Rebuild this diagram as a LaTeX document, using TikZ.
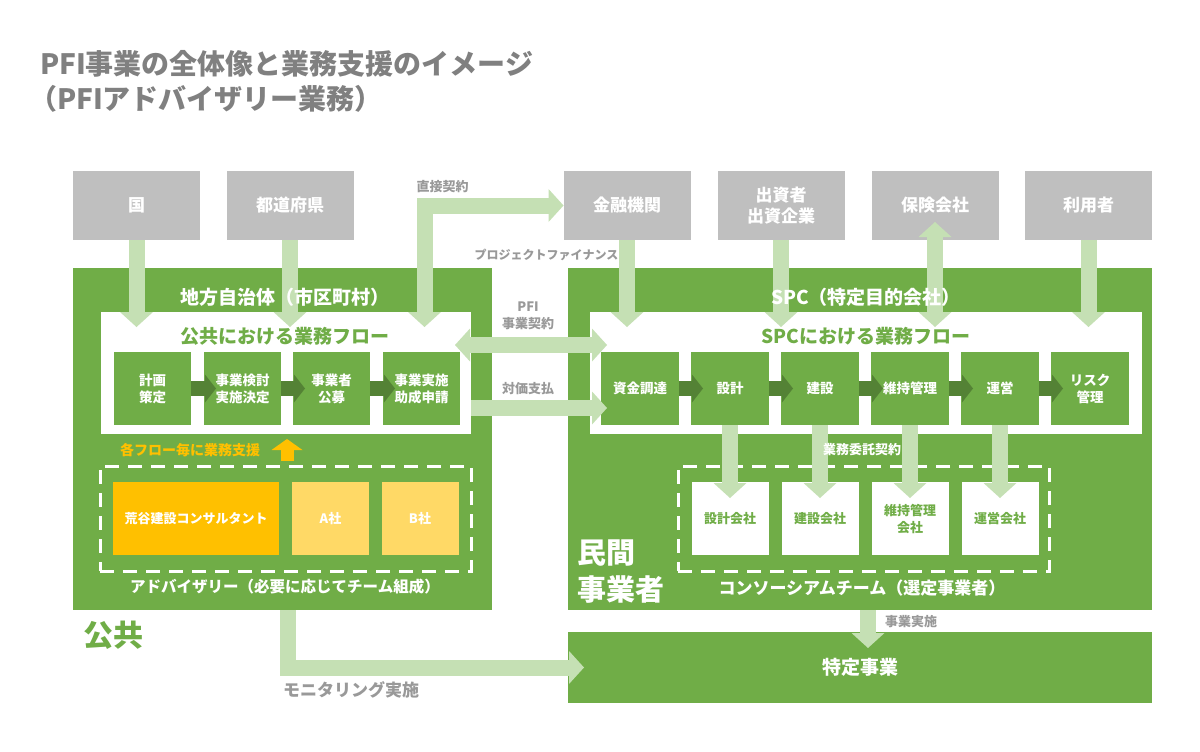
\documentclass[tikz,border=0pt]{standalone}
\usepackage{fontspec}
\setmainfont{Noto Sans CJK JP}
\usetikzlibrary{arrows.meta}
\definecolor{grn}{HTML}{70AD47}
\definecolor{lgrn}{HTML}{C5E0B4}
\definecolor{dgrn}{HTML}{548235}
\definecolor{boxgray}{HTML}{BFBFBF}
\definecolor{gtxt}{HTML}{999999}
\definecolor{ttl}{HTML}{808080}
\definecolor{org}{HTML}{FFC000}
\definecolor{lorg}{HTML}{FFD966}
\newcommand\fsz[2]{\fontsize{#1pt}{#2pt}\selectfont\bfseries}
\begin{document}
\begin{tikzpicture}[x=1pt,y=-1pt,
  every node/.style={inner sep=0pt,outer sep=0pt},
  gb/.style={fill=boxgray,minimum width=127pt,minimum height=69pt,text=white,font=\fsz{17}{21},align=center},
  bigbox/.style={fill=grn},
  flowbox/.style={fill=grn,minimum width=77pt,minimum height=73pt,text=white,font=\fsz{13.5}{17},align=center},
  compbox/.style={fill=white,minimum width=77pt,minimum height=73pt,text=grn,font=\fsz{13}{17},align=center},
  dashbox/.style={draw=white,line width=3pt,dash pattern=on 14pt off 9pt,minimum width=371pt,minimum height=105pt},
  lbl/.style={text=gtxt,font=\fsz{13}{17},align=center},
  la/.style={draw=lgrn,line width=16pt,-{Triangle[width=33pt,length=15pt,line width=0pt]}},
  lab/.style={draw=lgrn,line width=16pt,{Triangle[width=33pt,length=15pt,line width=0pt]}-{Triangle[width=33pt,length=15pt,line width=0pt]}},
  da/.style={draw=dgrn,line width=15pt,-{Triangle[width=28pt,length=11pt,line width=0pt]}},
  oa/.style={draw=org,line width=13pt,-{Triangle[width=31pt,length=11pt,line width=0pt]}}
]
\useasboundingbox (0,0) rectangle (1200,752);
\fill[white] (0,0) rectangle (1200,752);

% title
\node[anchor=west,text=ttl,font=\fsz{28}{32}] (t1) at (40,64) {PFI事業の全体像と業務支援のイメージ};
\node[anchor=west,text=ttl,font=\fsz{28}{32}] (t2) at (29,99) {（PFIアドバイザリー業務）};

% gray boxes
\node[gb] (kuni) at (136.5,205.5) {国};
\node[gb] (todo) at (290,205.5) {都道府県};
\node[gb] (kinyu) at (627,205.5) {金融機関};
\node[gb] (shusshi) at (781,205.5) {出資者\\出資企業};
\node[gb] (hoken) at (935,205.5) {保険会社};
\node[gb] (riyo) at (1088.5,205.5) {利用者};

% big green boxes
\node[bigbox,minimum width=419pt,minimum height=342pt] (pub) at (282.5,439) {};
\node[bigbox,minimum width=584pt,minimum height=342pt] (spc) at (860,439) {};
\node[fill=white,minimum width=370pt,minimum height=122pt] (pubflow) at (286,373) {};
\node[fill=white,minimum width=552pt,minimum height=122pt] (spcflow) at (866,373) {};

% public flow
\node[flowbox] (p1) at (152.5,388.5) {計画\\策定};
\node[flowbox] (p2) at (242.5,388.5) {事業検討\\実施決定};
\node[flowbox] (p3) at (331.5,388.5) {事業者\\公募};
\node[flowbox] (p4) at (421.5,388.5) {事業実施\\助成申請};

% SPC flow
\node[flowbox,minimum width=78pt] (s1) at (640,388.5) {資金調達};
\node[flowbox,minimum width=78pt] (s2) at (730,388.5) {設計};
\node[flowbox,minimum width=78pt] (s3) at (820,388.5) {建設};
\node[flowbox,minimum width=78pt] (s4) at (910,388.5) {維持管理};
\node[flowbox,minimum width=78pt] (s5) at (1000,388.5) {運営};
\node[flowbox,minimum width=78pt] (s6) at (1090,388.5) {リスク\\管理};

% dashed groups
\node[dashbox] (adv) at (285.5,518.5) {};
\node[dashbox] (cons) at (863.5,518.5) {};

\node[fill=org,minimum width=166pt,minimum height=73pt,text=white,font=\fsz{13}{16}] (ar) at (196,518.5) {荒谷建設コンサルタント};
\node[fill=lorg,minimum width=77pt,minimum height=73pt,text=white,font=\fsz{13}{16}] (aco) at (330.5,518.5) {A社};
\node[fill=lorg,minimum width=77pt,minimum height=73pt,text=white,font=\fsz{13}{16}] (bco) at (420,518.5) {B社};

\node[compbox] (c1) at (730,518.5) {設計会社};
\node[compbox] (c2) at (820,518.5) {建設会社};
\node[compbox] (c3) at (910,518.5) {維持管理\\会社};
\node[compbox] (c4) at (1000,518.5) {運営会社};

% specific project
\node[bigbox,minimum width=584pt,minimum height=71pt,text=white,font=\fsz{19}{22}] (toku) at (860,667.5) {特定事業};

% coordinates
\coordinate (ttop) at (0,327);
\coordinate (dkA) at (424.5,327);
\coordinate (pfiL) at (455,345);
\coordinate (pfiR) at (607,345);
\coordinate (payR) at (607,408);
\coordinate (supA) at (287,461);
\coordinate (supB) at (287,439);

% light green arrows
\draw[la] (kuni.south) -- (kuni.south |- ttop);
\draw[la] (todo.south) -- (todo.south |- ttop);
\draw[la] (kinyu.south) -- (kinyu.south |- ttop);
\draw[la] (shusshi.south) -- (shusshi.south |- ttop);
\draw[lab] ([yshift=18pt]hoken.south) -- (hoken.south |- ttop);
\draw[la] (riyo.south) -- (riyo.south |- ttop);
\draw[lab,line join=miter] (dkA) |- (kinyu.west);
\draw[lab] (pfiL) -- (pfiR);
\draw[la] (pubflow.east |- payR) -- (payR);
\draw[la] (s2.south) -- ([yshift=-16pt]c1.north);
\draw[la] (s3.south) -- ([yshift=-16pt]c2.north);
\draw[la] (s4.south) -- ([yshift=-16pt]c3.north);
\draw[la] (s5.south) -- ([yshift=-16pt]c4.north);
\draw[la] ([xshift=8pt]spc.south) -- ([xshift=8pt,yshift=-16pt]toku.north);
\draw[la,line join=miter] ([xshift=5pt]pub.south) |- ([xshift=16pt]toku.west);

% dark flow arrows
\draw[da] (p1.east) -- ([xshift=12pt]p2.west);
\draw[da] (p2.east) -- ([xshift=12pt]p3.west);
\draw[da] (p3.east) -- ([xshift=12pt]p4.west);
\draw[da] (s1.east) -- ([xshift=12pt]s2.west);
\draw[da] (s2.east) -- ([xshift=12pt]s3.west);
\draw[da] (s3.east) -- ([xshift=12pt]s4.west);
\draw[da] (s4.east) -- ([xshift=12pt]s5.west);
\draw[da] (s5.east) -- ([xshift=12pt]s6.west);

% orange support arrow
\draw[oa] (supA) -- (supB);

% labels
\node[lbl] (l1) at (442.5,187) {直接契約};
\node[lbl,font=\fsz{12}{15}] (l2) at (546.5,255) {プロジェクトファイナンス};
\node[lbl] (l3) at (528,316) {PFI\\事業契約};
\node[lbl] (l4) at (528,389) {対価支払};
\node[text=white,font=\fsz{19}{22}] (h1) at (285,297) {地方自治体（市区町村）};
\node[text=grn,font=\fsz{19}{22}] (h2) at (285,336) {公共における業務フロー};
\node[text=white,font=\fsz{19}{22}] (h3) at (866,297) {SPC（特定目的会社）};
\node[text=grn,font=\fsz{19}{22}] (h4) at (866,336) {SPCにおける業務フロー};
\node[text=org,font=\fsz{14}{17}] (l5) at (190,450) {各フロー毎に業務支援};
\node[text=white,font=\fsz{15.5}{18}] (l6) at (285,587) {アドバイザリー（必要に応じてチーム組成）};
\node[anchor=west,text=grn,font=\fsz{30}{34}] (l7) at (83,635) {公共};
\node[anchor=west,text=white,font=\fsz{29}{33}] (l8) at (577,553) {民間};
\node[anchor=west,text=white,font=\fsz{29}{33}] (l9) at (577,590) {事業者};
\node[text=white,font=\fsz{13}{16}] (l10) at (862,450) {業務委託契約};
\node[text=white,font=\fsz{17}{20}] (l11) at (862,588) {コンソーシアムチーム（選定事業者）};
\node[lbl] (l12) at (911,622) {事業実施};
\node[lbl,font=\fsz{17}{20}] (l13) at (351,690) {モニタリング実施};
\end{tikzpicture}
\end{document}
